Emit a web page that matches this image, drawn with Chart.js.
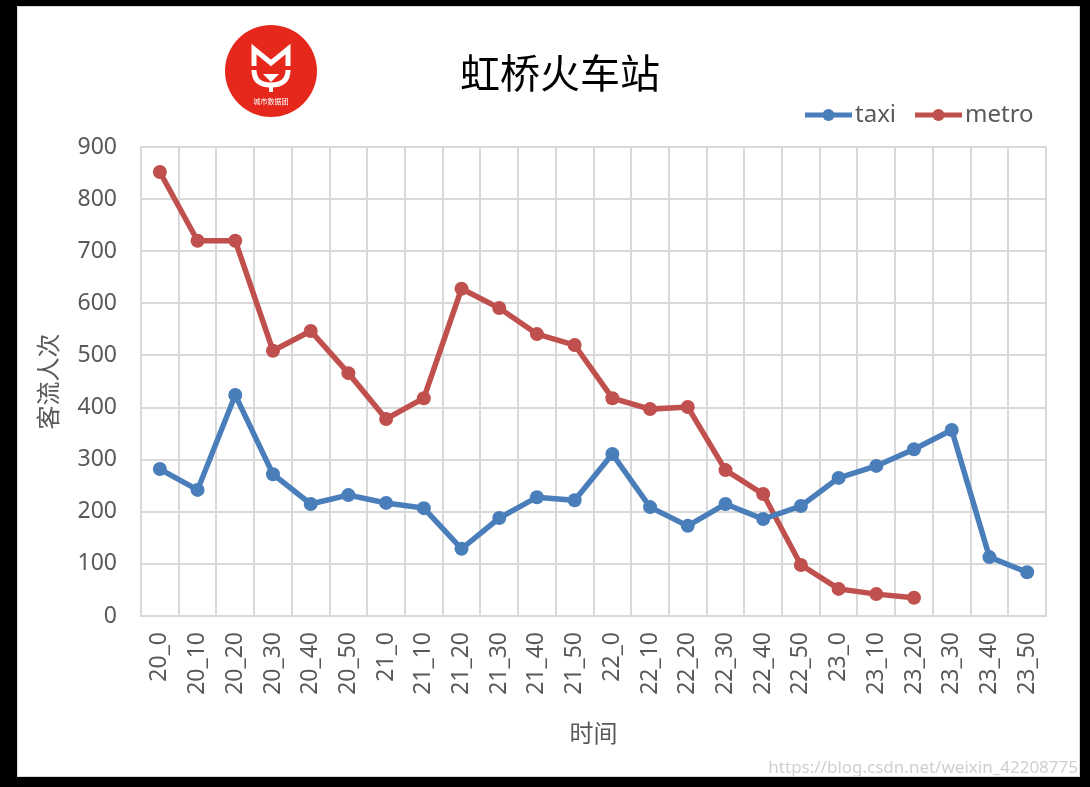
<!DOCTYPE html>
<html>
<head>
<meta charset="utf-8">
<script src="https://cdn.jsdelivr.net/npm/chart.js@4.4.1/dist/chart.umd.min.js"></script>
<style>
html,body{margin:0;padding:0;background:#000;}
#wrap{position:absolute;left:0;top:0;width:1090px;height:787px;}
</style>
</head>
<body>
<div id="wrap"><canvas id="c" width="1090" height="787"></canvas></div>
<script>
const categories = ["20_0","20_10","20_20","20_30","20_40","20_50","21_0","21_10","21_20","21_30","21_40","21_50","22_0","22_10","22_20","22_30","22_40","22_50","23_0","23_10","23_20","23_30","23_40","23_50"];
const taxi = [282,242,424,272,215,232,217,207,129,188,228,222,311,209,173,215,186,211,265,288,320,357,113,84];
const metro = [852,720,720,509,547,466,378,418,628,591,541,520,418,397,401,280,234,98,52,42,35,null,null,null];
const seriesNames = ["taxi","metro"];
const seriesColors = ["#4a7ebb","#c0504d"];
const titleText = "虹桥火车站";
const yTitle = "客流人次";
const xTitle = "时间";
const logoText = "城市数据团";
const watermark = "https://blog.csdn.net/weixin_42208775";

const CJK = '"Noto Sans CJK SC","Noto Sans",sans-serif';
const LAT = '"Noto Sans","Noto Sans CJK SC",sans-serif';

const framePlugin = {
  id: 'frame',
  beforeDraw(chart) {
    const ctx = chart.ctx;
    ctx.save();
    ctx.fillStyle = '#000';
    ctx.fillRect(0, 0, chart.width, chart.height);
    ctx.fillStyle = '#fff';
    ctx.fillRect(17, 6, 1063, 771);
    ctx.strokeStyle = '#d8d8d8';
    ctx.lineWidth = 1;
    ctx.strokeRect(17.5, 6.5, 1062, 770);
    ctx.restore();
  },
  afterDraw(chart) {
    const ctx = chart.ctx;
    ctx.save();
    // title
    ctx.fillStyle = '#000';
    ctx.font = '40px ' + CJK;
    ctx.textAlign = 'center';
    ctx.textBaseline = 'middle';
    ctx.fillText(titleText, 560, 73);
    // logo
    const cx = 271, cy = 71, r = 46;
    ctx.fillStyle = '#e5281b';
    ctx.beginPath();
    ctx.arc(cx, cy, r, 0, Math.PI * 2);
    ctx.fill();
    ctx.strokeStyle = '#fff';
    ctx.fillStyle = '#fff';
    ctx.lineWidth = 5;
    ctx.lineJoin = 'miter';
    ctx.beginPath();
    ctx.moveTo(cx - 17, cy - 5);
    ctx.lineTo(cx - 17, cy - 22);
    ctx.lineTo(cx, cy - 8);
    ctx.lineTo(cx + 17, cy - 22);
    ctx.lineTo(cx + 17, cy - 5);
    ctx.stroke();
    ctx.beginPath();
    ctx.moveTo(cx - 17, cy - 1);
    ctx.quadraticCurveTo(cx - 17, cy + 14, cx, cy + 14);
    ctx.quadraticCurveTo(cx + 17, cy + 14, cx + 17, cy - 1);
    ctx.stroke();
    ctx.beginPath();
    ctx.moveTo(cx - 8, cy + 3);
    ctx.lineTo(cx + 8, cy + 3);
    ctx.lineTo(cx, cy + 11);
    ctx.closePath();
    ctx.fill();
    ctx.fillRect(cx - 2, cy + 12, 4, 9);
    ctx.font = '7px ' + CJK;
    ctx.fillText(logoText, cx, cy + 30);
    // legend
    ctx.font = '24px ' + LAT;
    ctx.textAlign = 'left';
    const items = [{x1: 805, x2: 852, tx: 855}, {x1: 915, x2: 962, tx: 965}];
    items.forEach((it, i) => {
      ctx.strokeStyle = seriesColors[i];
      ctx.fillStyle = seriesColors[i];
      ctx.lineWidth = 5;
      ctx.beginPath();
      ctx.moveTo(it.x1, 115);
      ctx.lineTo(it.x2, 115);
      ctx.stroke();
      ctx.beginPath();
      ctx.arc((it.x1 + it.x2) / 2, 115, 6, 0, Math.PI * 2);
      ctx.fill();
      ctx.fillStyle = '#595959';
      ctx.fillText(seriesNames[i], it.tx, 115);
    });
    // watermark
    ctx.font = '17px ' + LAT;
    ctx.fillStyle = '#cfcfcf';
    ctx.textAlign = 'right';
    ctx.fillText(watermark, 1078, 768);
    ctx.restore();
  }
};

const ds = (name, data, color) => ({
  label: name,
  data: data,
  borderColor: color,
  backgroundColor: color,
  borderWidth: 5.5,
  pointRadius: 7,
  pointHoverRadius: 7,
  pointBorderWidth: 0,
  pointBackgroundColor: color,
  tension: 0,
  spanGaps: false
});

new Chart(document.getElementById('c'), {
  type: 'line',
  data: {
    labels: categories,
    datasets: [ds(seriesNames[0], taxi, seriesColors[0]), ds(seriesNames[1], metro, seriesColors[1])]
  },
  options: {
    responsive: false,
    animation: false,
    devicePixelRatio: 1,
    layout: {padding: {left: 17, right: 44, top: 147, bottom: 10}},
    plugins: {legend: {display: false}, title: {display: false}, tooltip: {enabled: false}},
    scales: {
      x: {
        offset: true,
        grid: {offset: true, color: '#d9d9d9', lineWidth: 2, drawTicks: false},
        border: {color: '#d9d9d9', width: 2},
        ticks: {
          autoSkip: false, maxRotation: 90, minRotation: 90, padding: 16,
          color: '#595959', font: {family: LAT, size: 23}
        },
        title: {display: true, text: xTitle, color: '#595959', font: {family: CJK, size: 24}, padding: {top: 0, bottom: 30}},
        afterFit(s) { s.height = 161; }
      },
      y: {
        min: 0, max: 900,
        grid: {color: '#d9d9d9', lineWidth: 2, drawTicks: false},
        border: {color: '#d9d9d9', width: 2},
        ticks: {stepSize: 100, padding: 24, color: '#595959', font: {family: LAT, size: 23}},
        title: {display: true, text: yTitle, color: '#595959', font: {family: CJK, size: 24}, padding: {top: 16, bottom: 0}},
        afterFit(s) { s.width = 124; }
      }
    }
  },
  plugins: [framePlugin]
});
</script>
</body>
</html>
